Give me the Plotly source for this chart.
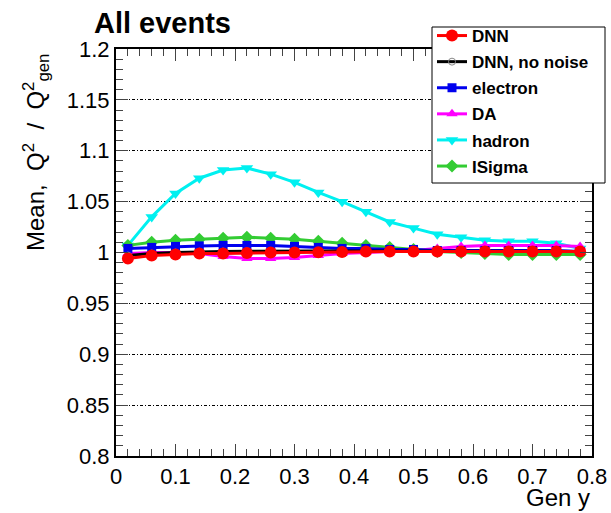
import plotly.graph_objects as go

# bin centres in generated y
gen_y = [0.02, 0.06, 0.10, 0.14, 0.18, 0.22, 0.26, 0.30, 0.34, 0.38,
         0.42, 0.46, 0.50, 0.54, 0.58, 0.62, 0.66, 0.70, 0.74, 0.78]

# mean Q2 / Q2gen per method
dnn = [0.994, 0.997, 0.998, 0.999, 0.999, 0.9995, 1.000, 1.000, 1.0003, 1.0005,
       1.001, 1.001, 1.001, 1.001, 1.001, 1.001, 1.001, 1.001, 1.001, 1.001]
dnn_no_noise = [0.997, 0.999, 1.000, 1.0008, 1.001, 1.0012, 1.0015, 1.0015, 1.0015, 1.0015,
                1.0015, 1.0015, 1.0015, 1.0015, 1.0015, 1.001, 1.001, 1.001, 1.001, 1.001]
electron = [1.004, 1.005, 1.006, 1.0065, 1.007, 1.007, 1.007, 1.006, 1.005, 1.004,
            1.004, 1.003, 1.003, 1.002, 1.002, 1.002, 1.002, 1.002, 1.002, 1.001]
da = [0.999, 1.000, 1.000, 0.999, 0.996, 0.994, 0.994, 0.995, 0.997, 0.999,
      1.000, 1.001, 1.002, 1.004, 1.006, 1.007, 1.007, 1.007, 1.007, 1.006]
hadron = [1.007, 1.035, 1.058, 1.073, 1.081, 1.083, 1.077, 1.069, 1.059, 1.050,
          1.040, 1.030, 1.024, 1.018, 1.015, 1.012, 1.011, 1.011, 1.009, 1.004]
isigma = [1.007, 1.010, 1.012, 1.013, 1.014, 1.015, 1.014, 1.013, 1.011, 1.009,
          1.007, 1.005, 1.003, 1.001, 1.000, 0.999, 0.998, 0.998, 0.998, 0.998]

FONT = "Liberation Sans, Arial, sans-serif"

# plot frame in window pixels
X0, X1, Y0, Y1 = 116, 592, 49, 456


def px(x):
    return (x - X0) / (X1 - X0)


def py(y):
    return (Y1 - y) / (Y1 - Y0)


# drawn back to front, legend order via rank
series = [
    ("hadron", hadron, "#00f0f0", "triangle-down", 11, 5),
    ("DA", da, "#ff00ff", "triangle-up", 10, 4),
    ("ISigma", isigma, "#33cc33", "diamond", 10, 6),
    ("electron", electron, "#0000ee", "square", 9, 3),
    ("DNN, no noise", dnn_no_noise, "#000000", "circle-open", 7, 2),
    ("DNN", dnn, "#ff0000", "circle", 12, 1),
]

fig = go.Figure()
for name, vals, col, sym, size, rank in series:
    mk = dict(symbol=sym, size=size, color=col)
    if sym == "circle-open":
        mk = dict(symbol=sym, size=size, color="#888888", line=dict(width=1))
    fig.add_trace(go.Scatter(
        x=gen_y, y=vals, name=name, mode="lines+markers",
        line=dict(color=col, width=3), marker=mk,
        legendrank=rank, legendgroup=name,
    ))

axis_common = dict(
    showline=True, linecolor="black", linewidth=2, mirror="ticks",
    ticks="inside", ticklen=12, tickwidth=1, tickcolor="#444",
    tickfont=dict(family=FONT, size=22, color="black"),
    zeroline=False,
)

fig.update_xaxes(range=[0, 0.8], dtick=0.1, showgrid=False,
                 minor=dict(ticks="inside", ticklen=7, dtick=0.02, tickcolor="#444"),
                 **axis_common)
fig.update_yaxes(range=[0.8, 1.2], dtick=0.05, showgrid=True, gridcolor="black",
                 gridwidth=1, griddash="3px,2px,1px,2px",
                 minor=dict(ticks="inside", ticklen=7, dtick=0.01, tickcolor="#444"),
                 **axis_common)

fig.update_layout(
    width=611, height=513,
    margin=dict(l=X0, r=611 - X1, t=Y0, b=513 - Y1, autoexpand=False),
    plot_bgcolor="white", paper_bgcolor="white",
    font=dict(family=FONT, color="black"),
    showlegend=True,
    legend=dict(x=px(432), y=py(18), xanchor="left", yanchor="top",
                bgcolor="rgba(0,0,0,0)", borderwidth=0,
                font=dict(family=FONT, size=17, color="black", weight="bold"),
                tracegroupgap=1, itemwidth=30),
    # legend box, drawn over the curves
    shapes=[dict(type="rect", xref="paper", yref="paper", layer="above",
                 x0=px(432), x1=px(605), y0=py(183), y1=py(27),
                 fillcolor="white", line=dict(color="black", width=1))],
    annotations=[
        dict(text="<b>All events</b>", xref="paper", yref="paper",
             x=px(92), y=py(23), xanchor="left", yanchor="middle",
             showarrow=False, font=dict(family=FONT, size=29)),
        dict(text="Gen y", xref="paper", yref="paper",
             x=1.0, y=py(497), xanchor="right", yanchor="middle",
             showarrow=False, font=dict(family=FONT, size=24)),
        dict(text="Mean,  Q<sup>2</sup>  /  Q<sup>2</sup><sub>gen</sub>",
             xref="paper", yref="paper", textangle=-90,
             x=px(36), y=py(153), xanchor="center", yanchor="middle",
             showarrow=False, font=dict(family=FONT, size=24)),
    ],
)

# drop the page's default body margin so the figure sits at the window corner
fig.write_html("out.html", config={"displayModeBar": False},
               post_script="document.body.style.margin = '0';")
